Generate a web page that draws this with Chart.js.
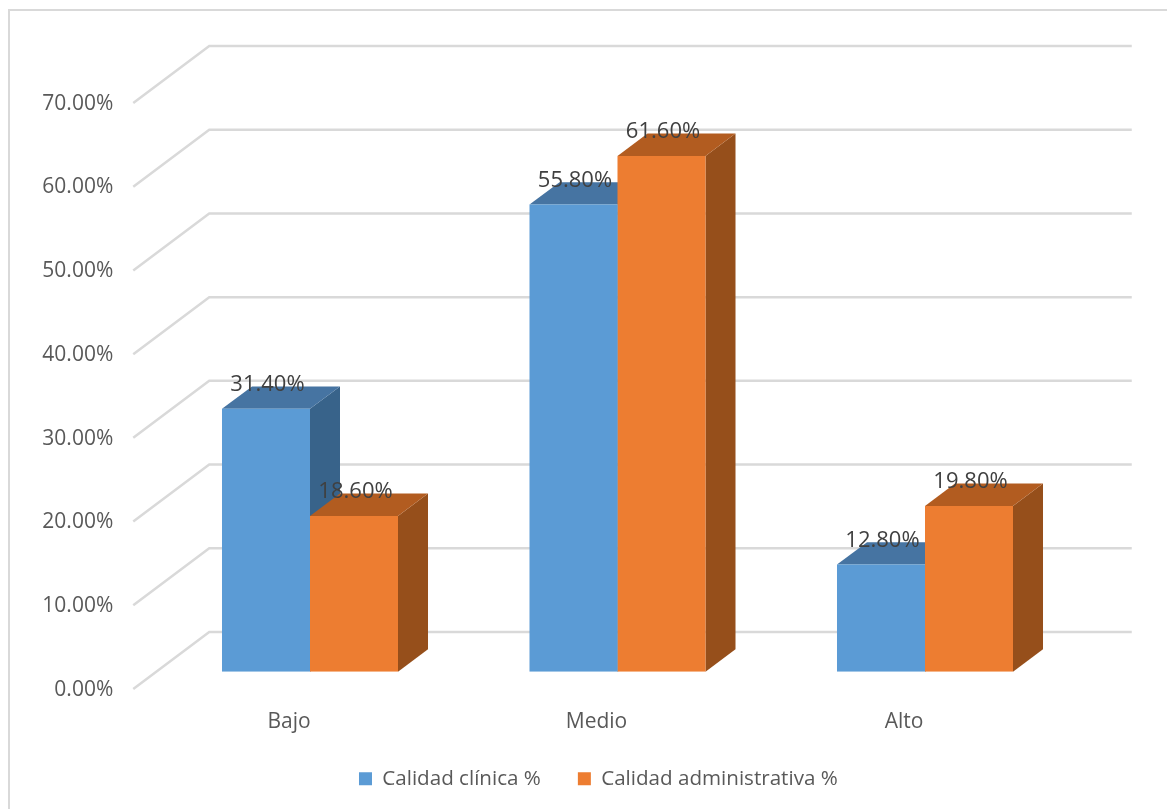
<!DOCTYPE html>
<html lang="es">
<head>
<meta charset="utf-8">
<title>Calidad clínica y administrativa</title>
<script src="https://cdn.jsdelivr.net/npm/chart.js@4"></script>
<style>
    body { margin: 0; background: #fff; }
    canvas { display: block; }
</style>
</head>
<body>
<canvas id="grafico" width="1167" height="809"></canvas>
<script>
const categorias = ['Bajo', 'Medio', 'Alto'];
const clinica = [31.4, 55.8, 12.8];
const administrativa = [18.6, 61.6, 19.8];
const marcasY = [0, 10, 20, 30, 40, 50, 60, 70];

const azul = { frente: '#5b9bd5', arriba: '#4674a2', lado: '#38638a' };
const naranja = { frente: '#ed7d31', arriba: '#b25c20', lado: '#964f1b' };

// profundidad de las barras y de las paredes del fondo
const fondoBarraX = 30, fondoBarraY = 22.4;
const paredAtrasX = 53, paredAtrasY = 39.7;
const paredFrenteX = 23, paredFrenteY = 17.3;

const fuente = '"Open Sans", sans-serif';

const efecto3d = {
    id: 'efecto3d',
    afterLayout(chart) {
        // la leyenda no queda centrada con el area, se recoloca a mano
        const leyenda = chart.legend;
        leyenda.left += 59;
        leyenda.right += 59;
        leyenda.top -= 10;
        leyenda.bottom -= 10;
    },
    beforeDraw(chart) {
        const c = chart.ctx;
        c.save();
        c.strokeStyle = '#d9d9d9';
        c.lineWidth = 2;
        c.beginPath();
        c.moveTo(9, 809);
        c.lineTo(9, 10);
        c.lineTo(1167, 10);
        c.stroke();
        c.restore();
    },
    beforeDatasetsDraw(chart) {
        const c = chart.ctx;
        const area = chart.chartArea;
        const y = chart.scales.y;

        c.save();
        c.strokeStyle = '#d9d9d9';
        c.lineWidth = 2.5;
        marcasY.forEach(function (valor) {
            const py = y.getPixelForValue(valor);
            c.beginPath();
            c.moveTo(area.left - paredFrenteX, py + paredFrenteY);
            c.lineTo(area.left + paredAtrasX, py - paredAtrasY);
            c.lineTo(area.right + paredAtrasX, py - paredAtrasY);
            c.stroke();
        });

        // caras de arriba y laterales, el frente lo pinta la propia barra
        [azul, naranja].forEach(function (tono, d) {
            chart.getDatasetMeta(d).data.forEach(function (barra) {
                const izq = barra.x - barra.width / 2;
                const der = barra.x + barra.width / 2;

                c.fillStyle = tono.lado;
                c.beginPath();
                c.moveTo(der, barra.y);
                c.lineTo(der + fondoBarraX, barra.y - fondoBarraY);
                c.lineTo(der + fondoBarraX, barra.base - fondoBarraY);
                c.lineTo(der, barra.base);
                c.closePath();
                c.fill();

                c.fillStyle = tono.arriba;
                c.beginPath();
                c.moveTo(izq, barra.y);
                c.lineTo(izq + fondoBarraX, barra.y - fondoBarraY);
                c.lineTo(der + fondoBarraX, barra.y - fondoBarraY);
                c.lineTo(der, barra.y);
                c.closePath();
                c.fill();
            });
        });
        c.restore();
    },
    afterDatasetsDraw(chart) {
        const c = chart.ctx;
        c.save();
        c.fillStyle = '#404040';
        c.font = '22px ' + fuente;
        c.textAlign = 'center';
        c.textBaseline = 'middle';
        chart.data.datasets.forEach(function (serie, d) {
            chart.getDatasetMeta(d).data.forEach(function (barra, i) {
                c.fillText(serie.data[i].toFixed(2) + '%', barra.x + 1.5, barra.y - 24);
            });
        });
        c.restore();
    }
};

new Chart(document.getElementById('grafico'), {
    type: 'bar',
    data: {
        labels: categorias,
        datasets: [{
            label: 'Calidad clínica %',
            backgroundColor: azul.frente,
            data: clinica
        }, {
            label: 'Calidad administrativa %',
            backgroundColor: naranja.frente,
            data: administrativa
        }]
    },
    options: {
        responsive: false,
        animation: false,
        layout: { padding: { top: 85.7, right: 88.25, left: 0, bottom: 0 } },
        categoryPercentage: 0.5724,
        barPercentage: 1,
        plugins: {
            tooltip: { enabled: false },
            legend: {
                position: 'bottom',
                labels: {
                    boxWidth: 13,
                    boxHeight: 13,
                    padding: 37,
                    color: '#595959',
                    font: { family: fuente, size: 20.6 }
                }
            }
        },
        scales: {
            x: {
                grid: { display: false, drawTicks: false },
                border: { display: false },
                ticks: {
                    color: '#595959',
                    font: { family: fuente, size: 21 },
                    padding: 38,
                    labelOffset: -21,
                    maxRotation: 0
                },
                afterFit(eje) {
                    // la leyenda ya esta medida cuando se ajusta este eje
                    eje.height = 137.3 - eje.chart.legend.height;
                }
            },
            y: {
                min: 0,
                max: 70,
                grid: { display: false, drawTicks: false },
                border: { display: false },
                ticks: {
                    stepSize: 10,
                    color: '#595959',
                    font: { family: fuente, size: 21 },
                    padding: 43,
                    labelOffset: 18,
                    callback: function (v) { return v.toFixed(2) + '%'; }
                },
                afterFit(eje) {
                    eje.width = 156.25;
                }
            }
        }
    },
    plugins: [efecto3d]
});
</script>
</body>
</html>
